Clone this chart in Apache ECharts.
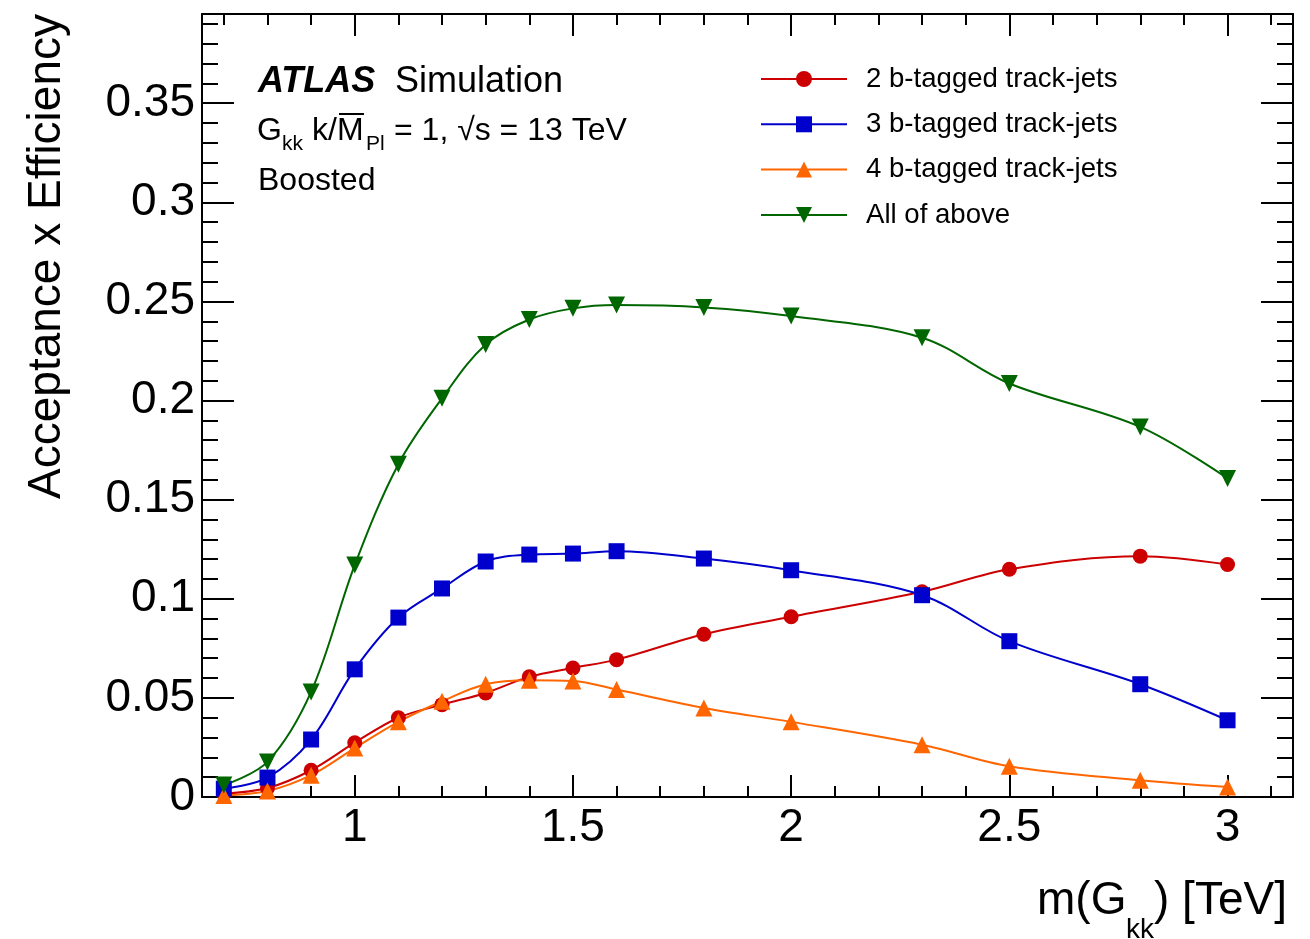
<!DOCTYPE html>
<html><head><meta charset="utf-8">
<script src="https://cdn.jsdelivr.net/npm/echarts@6/dist/echarts.min.js"></script>
<style>html,body{margin:0;padding:0;background:#fff}#c{width:1310px;height:939px}</style>
</head><body><div id="c"></div>
<script>
// ---- data ----
const masses = [0.7, 0.8, 0.9, 1.0, 1.1, 1.2, 1.3, 1.4, 1.5, 1.6, 1.8, 2.0, 2.3, 2.5, 2.8, 3.0];
const eff2b  = [0.0017, 0.0045, 0.0135, 0.0274, 0.0400, 0.0466, 0.0525, 0.0606, 0.0651, 0.0693, 0.0821, 0.0909, 0.1035, 0.1149, 0.1215, 0.1173];
const eff3b  = [0.0042, 0.0098, 0.0290, 0.0644, 0.0905, 0.1052, 0.1188, 0.1223, 0.1228, 0.1240, 0.1203, 0.1144, 0.1018, 0.0786, 0.0569, 0.0387];
const eff4b  = [0.0008, 0.0030, 0.0110, 0.0247, 0.0379, 0.0483, 0.0569, 0.0589, 0.0585, 0.0542, 0.0449, 0.0379, 0.0264, 0.0155, 0.0084, 0.0050];
const effAll = [0.0060, 0.0177, 0.0530, 0.1170, 0.1679, 0.2011, 0.2283, 0.2409, 0.2465, 0.2482, 0.2470, 0.2426, 0.2317, 0.2086, 0.1867, 0.1607];
const seriesNames = ['2 b-tagged track-jets', '3 b-tagged track-jets', '4 b-tagged track-jets', 'All of above'];
const xRange = [0.65, 3.15];
const yRange = [0, 0.395];

const FONT = '"Liberation Sans", Arial, Helvetica, sans-serif';
const chart = echarts.init(document.getElementById('c'), null, {renderer: 'canvas'});
function pts(v) { return masses.map((m, i) => [m, v[i]]); }

function xAx(pos, showLabel) {
  return {
    type: 'value', min: xRange[0], max: xRange[1], splitNumber: 5, position: pos, gridIndex: 0,
    axisLine: {show: true, onZero: false, lineStyle: {color: '#000', width: 2}},
    axisTick: {show: true, inside: true, length: 22, lineStyle: {color: '#000', width: 2}},
    minorTick: {show: true, splitNumber: 5, length: 11, lineStyle: {color: '#000', width: 2}},
    splitLine: {show: false}, minorSplitLine: {show: false},
    axisLabel: {show: showLabel, showMinLabel: false, showMaxLabel: false, fontSize: 46, color: '#000', fontFamily: FONT, margin: 8}
  };
}
function yAx(pos, showLabel) {
  return {
    type: 'value', min: yRange[0], max: yRange[1], splitNumber: 8, position: pos, gridIndex: 0,
    axisLine: {show: true, onZero: false, lineStyle: {color: '#000', width: 2}},
    axisTick: {show: true, inside: true, length: 32, lineStyle: {color: '#000', width: 2}},
    minorTick: {show: true, splitNumber: 5, length: 16, lineStyle: {color: '#000', width: 2}},
    splitLine: {show: false}, minorSplitLine: {show: false},
    axisLabel: {show: showLabel, showMaxLabel: false, fontSize: 46, color: '#000', fontFamily: FONT, margin: 7}
  };
}
function ser(name, vals, color, symbol, size, rotate) {
  return {
    name: name, type: 'line', data: pts(vals), smooth: 0.35,
    symbol: symbol, symbolSize: size, symbolRotate: rotate || 0,
    lineStyle: {color: color, width: 2}, itemStyle: {color: color},
    emphasis: {disabled: true}, z: 3
  };
}

const option = {
  animation: false,
  backgroundColor: '#fff',
  grid: {left: 202, top: 14, width: 1091, height: 783},
  xAxis: [xAx('bottom', true), xAx('top', false)],
  yAxis: [yAx('left', true), yAx('right', false)],
  legend: {
    orient: 'vertical', left: 760, top: 65, padding: 0, itemWidth: 86, itemHeight: 20, itemGap: 17.3,
    data: seriesNames,
    formatter: n => '{t|' + n + '}',
    textStyle: {color: '#000', fontFamily: FONT, fontSize: 27.6,
      rich: {t: {fontSize: 27.6, fontFamily: FONT, color: '#000', padding: [0, 0, 0, 14]}}},
    selectedMode: false
  },
  series: [
    ser(seriesNames[0], eff2b, '#cc0000', 'circle', 15),
    ser(seriesNames[1], eff3b, '#0000cc', 'rect', 16),
    ser(seriesNames[2], eff4b, '#ff6600', 'triangle', 17),
    ser(seriesNames[3], effAll, '#006600', 'triangle', 17, 180)
  ],
  graphic: [
    {type: 'text', x: 47, y: 14, rotation: Math.PI / 2,
     style: {text: 'Acceptance x Efficiency', fontSize: 46, fontFamily: FONT, fill: '#000', align: 'right', verticalAlign: 'middle'}},
    {type: 'text', x: 1037, y: 901, style: {text: 'm(G', fontSize: 46, fontFamily: FONT, fill: '#000', align: 'left', verticalAlign: 'middle'}},
    {type: 'text', x: 1126, y: 930, style: {text: 'kk', fontSize: 28, fontFamily: FONT, fill: '#000', align: 'left', verticalAlign: 'middle'}},
    {type: 'text', x: 1154, y: 901, style: {text: ') [TeV]', fontSize: 46, fontFamily: FONT, fill: '#000', align: 'left', verticalAlign: 'middle'}},
    {type: 'text', x: 258, y: 82, style: {text: 'ATLAS', fontSize: 36, fontWeight: 'bold', fontStyle: 'italic', fontFamily: FONT, fill: '#000', align: 'left', verticalAlign: 'middle'}},
    {type: 'text', x: 395, y: 82, style: {text: 'Simulation', fontSize: 36, fontFamily: FONT, fill: '#000', align: 'left', verticalAlign: 'middle'}},
    {type: 'text', x: 257, y: 131, style: {text: 'G', fontSize: 32, fontFamily: FONT, fill: '#000', align: 'left', verticalAlign: 'middle'}},
    {type: 'text', x: 282, y: 144, style: {text: 'kk', fontSize: 21, fontFamily: FONT, fill: '#000', align: 'left', verticalAlign: 'middle'}},
    {type: 'text', x: 312, y: 131, style: {text: 'k/M', fontSize: 32, fontFamily: FONT, fill: '#000', align: 'left', verticalAlign: 'middle'}},
    {type: 'line', shape: {x1: 339, y1: 114, x2: 364, y2: 114}, style: {stroke: '#000', lineWidth: 2}},
    {type: 'text', x: 366, y: 144, style: {text: 'Pl', fontSize: 21, fontFamily: FONT, fill: '#000', align: 'left', verticalAlign: 'middle'}},
    {type: 'text', x: 394, y: 131, style: {text: '= 1, \u221As = 13 TeV', fontSize: 32, fontFamily: FONT, fill: '#000', align: 'left', verticalAlign: 'middle'}},
    {type: 'text', x: 258, y: 181, style: {text: 'Boosted', fontSize: 32, fontFamily: FONT, fill: '#000', align: 'left', verticalAlign: 'middle'}}
  ]
};
chart.setOption(option);
</script>
</body></html>
